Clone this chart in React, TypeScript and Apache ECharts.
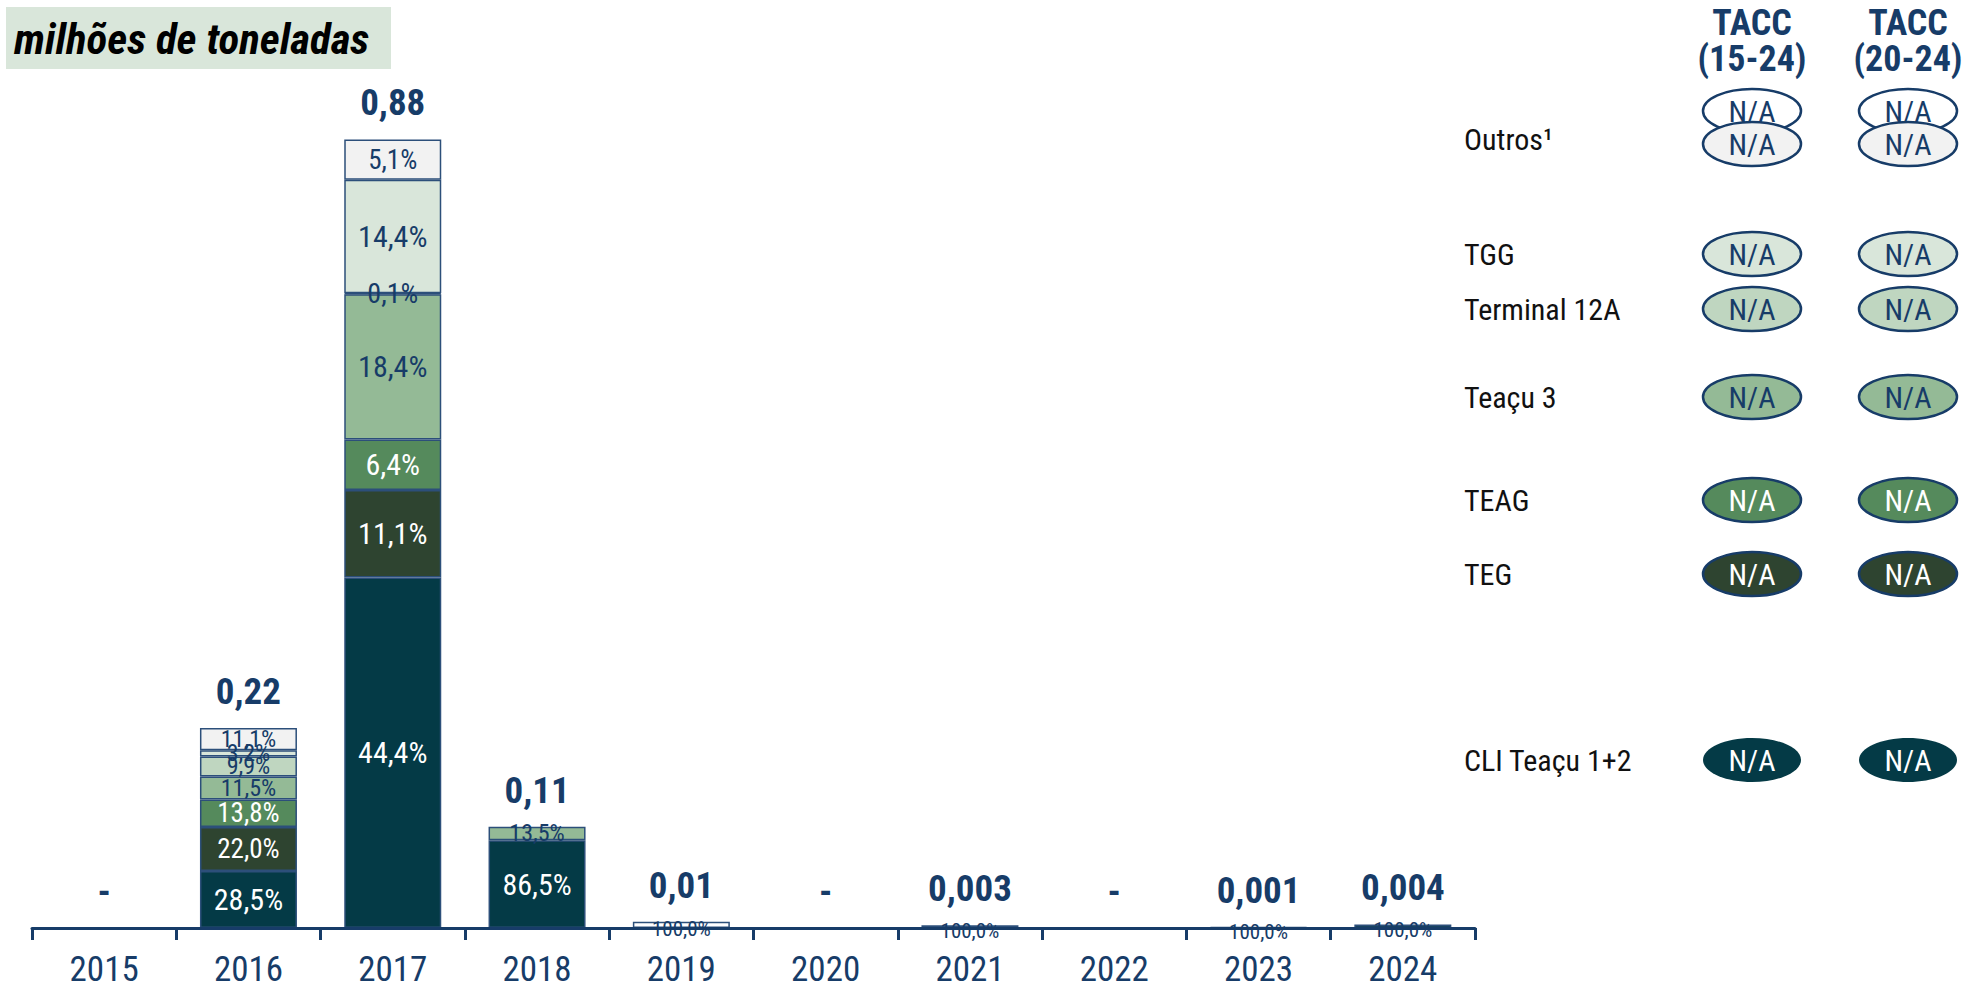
import React, { useEffect, useRef } from "react";
import * as echarts from "echarts";

const FONT = "'Roboto Condensed', 'Liberation Sans Narrow', 'Arial Narrow', Roboto, sans-serif";

const years = ["2015", "2016", "2017", "2018", "2019", "2020", "2021", "2022", "2023", "2024"];
const totals = [0, 0.223, 0.88, 0.113, 0.007, 0, 0.003, 0, 0.001, 0.004];
const totalLabels = ["-", "0,22", "0,88", "0,11", "0,01", "-", "0,003", "-", "0,001", "0,004"];

// shares (%) per segment, bottom to top
const cliShare = [null, 28.5, 44.4, 86.5, null, null, 100, null, null, 100];
const tegShare = [null, 22.0, 11.1, null, null, null, null, null, null, null];
const teagShare = [null, 13.8, 6.4, null, null, null, null, null, null, null];
const teacu3Share = [null, 11.5, 18.4, 13.5, null, null, null, null, null, null];
const t12aShare = [null, 9.9, 0.1, null, null, null, null, null, null, null];
const tggShare = [null, 3.2, 14.4, null, null, null, null, null, null, null];
const outrosShare = [null, 11.1, 5.1, null, null, null, null, null, null, null];
const outrosWhiteShare = [null, null, null, null, 100, null, null, null, 100, null];

const legendNames = ["Outros¹", "TGG", "Terminal 12A", "Teaçu 3", "TEAG", "TEG", "CLI Teaçu 1+2"];
const taccHeaders = ["TACC\n(15-24)", "TACC\n(20-24)"];
const taccValue = "N/A";

const NAVY = "#173c68";
const BORDER = "#2c4f7a";

const seriesDefs = [
  { name: "CLI Teaçu 1+2", share: cliShare, color: "#043a46", dark: true },
  { name: "TEG", share: tegShare, color: "#2e4430", dark: true },
  { name: "TEAG", share: teagShare, color: "#558a5c", dark: true },
  { name: "Teaçu 3", share: teacu3Share, color: "#94ba96", dark: false },
  { name: "Terminal 12A", share: t12aShare, color: "#bfd6c0", dark: false },
  { name: "TGG", share: tggShare, color: "#d9e6da", dark: false },
  { name: "Outros¹", share: outrosShare, color: "#f2f2f2", dark: false },
  { name: "Outros¹ ", share: outrosWhiteShare, color: "#ffffff", dark: false },
];

const PX_PER_UNIT = 897;

function fmtShare(v: number) {
  return v.toFixed(1).replace(".", ",") + "%";
}

export default function App() {
  const ref = useRef<HTMLDivElement>(null);
  useEffect(() => {
    document.body.style.margin = "0";
    document.body.style.overflow = "hidden";
    const chart = echarts.init(ref.current!, null, { renderer: "svg" });

    const barSeries: any[] = seriesDefs.map((def) => ({
      name: def.name,
      type: "bar",
      stack: "total",
      barWidth: 97,
      itemStyle: { color: def.color, borderColor: BORDER, borderWidth: 1.5 },
      data: def.share.map((s, i) => {
        if (s === null) return { value: null };
        const v = (totals[i] * s) / 100;
        const px = v * PX_PER_UNIT;
        const tiny = totals[i] < 0.05;
        const size = tiny ? 21 : px < 3 ? 28 : px < 25 ? 24 : px < 45 ? 27 : 30;
        return {
          value: v,
          label: {
            show: true,
            position: "inside",
            formatter: fmtShare(s),
            color: tiny ? NAVY : def.dark ? "#ffffff" : NAVY,
            fontFamily: FONT,
            fontSize: size,
            offset: tiny ? [0, 4] : [0, 0],
          },
        };
      }),
    }));

    barSeries.push({
      name: "total",
      type: "bar",
      stack: "total",
      barWidth: 97,
      itemStyle: { color: "transparent" },
      data: totals.map(() => 0),
      label: {
        show: true,
        position: "top",
        distance: 18,
        formatter: (p: any) => totalLabels[p.dataIndex],
        color: NAVY,
        fontFamily: FONT,
        fontWeight: "bold",
        fontSize: 37,
      },
    });

    const col1 = 1752;
    const col2 = 1908;
    const rx = 49;
    const ry = 22;
    const legendX = 1464;
    const rows = [
      { label: legendNames[0], y: 139, ell: [{ y: 111, fill: "#ffffff", txt: NAVY }, { y: 144, fill: "#f2f2f2", txt: NAVY }] },
      { label: legendNames[1], y: 254, ell: [{ y: 254, fill: "#d9e6da", txt: NAVY }] },
      { label: legendNames[2], y: 309, ell: [{ y: 309, fill: "#bfd6c0", txt: NAVY }] },
      { label: legendNames[3], y: 397, ell: [{ y: 397, fill: "#94ba96", txt: NAVY }] },
      { label: legendNames[4], y: 500, ell: [{ y: 500, fill: "#558a5c", txt: "#ffffff" }] },
      { label: legendNames[5], y: 574, ell: [{ y: 574, fill: "#2e4430", txt: "#ffffff" }] },
      { label: legendNames[6], y: 760, ell: [{ y: 760, fill: "#043a46", txt: "#ffffff", noStroke: true }] },
    ];

    const graphics: any[] = [
      { type: "rect", shape: { x: 6, y: 7, width: 385, height: 62 }, style: { fill: "#d9e6da" } },
      {
        type: "text",
        style: {
          text: "milhões de toneladas",
          x: 14,
          y: 39,
          verticalAlign: "middle",
          fill: "#000000",
          font: `italic bold 43px ${FONT}`,
        },
      },
    ];
    [col1, col2].forEach((cx, k) => {
      graphics.push({
        type: "text",
        style: {
          text: taccHeaders[k],
          x: cx,
          y: 41,
          align: "center",
          verticalAlign: "middle",
          fill: NAVY,
          font: `bold 36px ${FONT}`,
          lineHeight: 36,
        },
      });
    });
    rows.forEach((r) => {
      graphics.push({
        type: "text",
        style: { text: r.label, x: legendX, y: r.y, verticalAlign: "middle", fill: "#111111", font: `30px ${FONT}` },
      });
      r.ell.forEach((e: any) => {
        [col1, col2].forEach((cx) => {
          graphics.push({
            type: "ellipse",
            shape: { cx, cy: e.y, rx, ry },
            style: { fill: e.fill, stroke: NAVY, lineWidth: e.noStroke ? 0 : 2.5 },
          });
          graphics.push({
            type: "text",
            style: {
              text: taccValue,
              x: cx,
              y: e.y,
              align: "center",
              verticalAlign: "middle",
              fill: e.txt,
              font: `30px ${FONT}`,
            },
          });
        });
      });
    });

    chart.setOption({
      animation: false,
      grid: { left: 32, right: 509, top: 31, bottom: 63, containLabel: false },
      xAxis: {
        type: "category",
        data: years,
        axisLine: { lineStyle: { color: NAVY, width: 3 } },
        axisTick: { show: true, length: 12, lineStyle: { color: NAVY, width: 3 } },
        axisLabel: { color: NAVY, fontFamily: FONT, fontSize: 35, margin: 27, lineHeight: 28 },
        z: 10,
      },
      yAxis: { type: "value", min: 0, max: 1, show: false, splitLine: { show: false } },
      series: barSeries,
      graphic: graphics,
    });
    return () => chart.dispose();
  }, []);
  return <div ref={ref} style={{ width: 1984, height: 991 }} />;
}
